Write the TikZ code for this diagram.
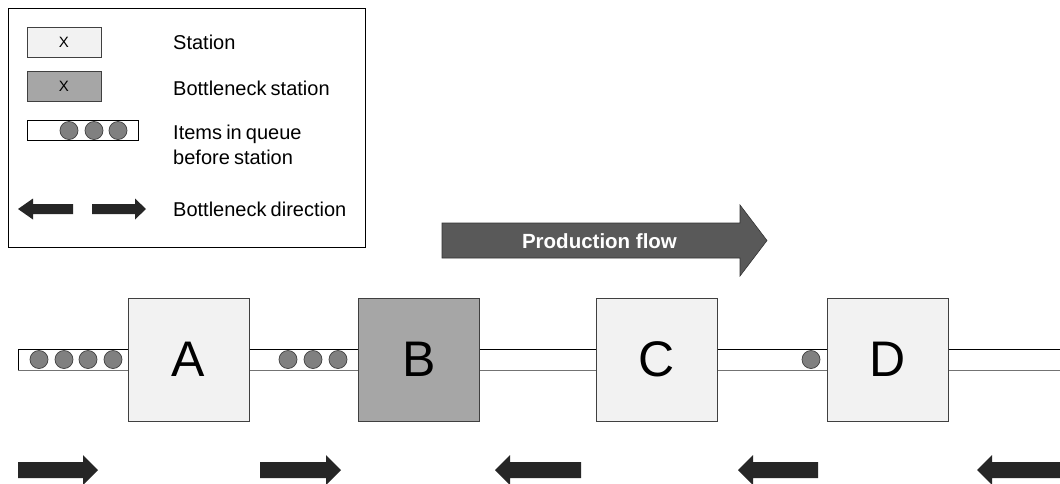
\documentclass[tikz,border=0pt]{standalone}
\usepackage{fontspec}
\setmainfont{Liberation Sans}
\newfontfamily\legfont{Liberation Sans}[WordSpace=0.75]
\begin{document}
\begin{tikzpicture}[x=1pt,y=-1pt,
  station/.style={draw=black!75, fill=black!5, line width=0.8pt, inner sep=0pt},
  bneck/.style={draw=black!75, fill=black!35, line width=0.8pt, inner sep=0pt},
  bigstation/.style={minimum width=121pt, minimum height=123pt, font=\fontsize{50}{50}\selectfont},
  smallstation/.style={minimum width=74pt, minimum height=30pt, font=\fontsize{15}{15}\selectfont},
  item/.style={circle, draw=black!75, fill=black!50, line width=0.7pt, minimum size=18pt, inner sep=0pt},
  darr/.style={fill=black!85},
  legtext/.style={anchor=west, align=left, font=\legfont\fontsize{20}{25}\selectfont, inner sep=0pt},
  laneTop/.style={draw=black, line width=0.8pt},
  laneBot/.style={draw=black!55, line width=1pt}
]
\useasboundingbox (0,0) rectangle (1060,483);
\fill[white] (0,0) rectangle (1060,483);

% ---------- legend ----------
\node[draw=black, line width=0.8pt, minimum width=357pt, minimum height=239pt, anchor=north west, inner sep=0pt] (legend) at (7.5,7.5) {};
\node[station, smallstation] (lst) at (64,42) {X};
\node[bneck, smallstation] (lbn) at (64,86) {X};
\draw[draw=black, fill=white, line width=0.8pt] (27,120.5) rectangle (138,140.5);
\node[item] (lq1) at (69,130.5) {};
\node[item] (lq2) at (94,130.5) {};
\node[item] (lq3) at (118,130.5) {};
\fill[darr] (18,209) -- (33,198.5) -- (33,204) -- (73,204) -- (73,214) -- (33,214) -- (33,219.5) -- cycle;
\fill[darr] (146,209) -- (135,198.5) -- (135,204) -- (92,204) -- (92,214) -- (135,214) -- (135,219.5) -- cycle;
\node[legtext] (t1) at (173,42) {Station};
\node[legtext] (t2) at (173,88) {Bottleneck station};
\node[legtext] (t3) at (173,145) {Items in queue\\before station};
\node[legtext] (t4) at (173,209) {Bottleneck direction};

% ---------- production flow ----------
\filldraw[fill=black!65, draw=black!80, line width=0.6pt]
  (442,223) -- (740,223) -- (740,205) -- (767,240.5) -- (740,276) -- (740,258) -- (442,258) -- cycle;
\node[text=white, font=\bfseries\fontsize{20.5}{20.5}\selectfont] (pf) at (599.5,241) {Production flow};

% ---------- lane ----------
\fill[white] (18,349) rectangle (1060,370);
\draw[laneTop] (1060,349) -- (18,349) -- (18,370);
\draw[laneBot] (18,370) -- (1060,370);

% ---------- stations ----------
\node[station, bigstation] (A) at (188.5,359.5) {A};
\node[bneck, bigstation] (B) at (419,359.5) {B};
\node[station, bigstation] (C) at (656.5,359.5) {C};
\node[station, bigstation] (D) at (887.5,359.5) {D};

% ---------- queue items ----------
\node[item] (qa1) at (39,359.5) {};
\node[item] (qa2) at (64,359.5) {};
\node[item] (qa3) at (88,359.5) {};
\node[item] (qa4) at (113,359.5) {};
\node[item] (qb1) at (288,359.5) {};
\node[item] (qb2) at (313,359.5) {};
\node[item] (qb3) at (338,359.5) {};
\node[item] (qd1) at (811,359.5) {};

% ---------- bottleneck direction arrows ----------
\fill[darr] (98,470) -- (83,455) -- (83,462) -- (18,462) -- (18,478) -- (83,478) -- (83,485) -- cycle;
\fill[darr] (341,470) -- (326,455) -- (326,462) -- (260,462) -- (260,478) -- (326,478) -- (326,485) -- cycle;
\fill[darr] (495,470) -- (510,455) -- (510,462) -- (581,462) -- (581,478) -- (510,478) -- (510,485) -- cycle;
\fill[darr] (738,470) -- (753,455) -- (753,462) -- (818,462) -- (818,478) -- (753,478) -- (753,485) -- cycle;
\fill[darr] (977,470) -- (992,455) -- (992,462) -- (1062,462) -- (1062,478) -- (992,478) -- (992,485) -- cycle;
\end{tikzpicture}
\end{document}
